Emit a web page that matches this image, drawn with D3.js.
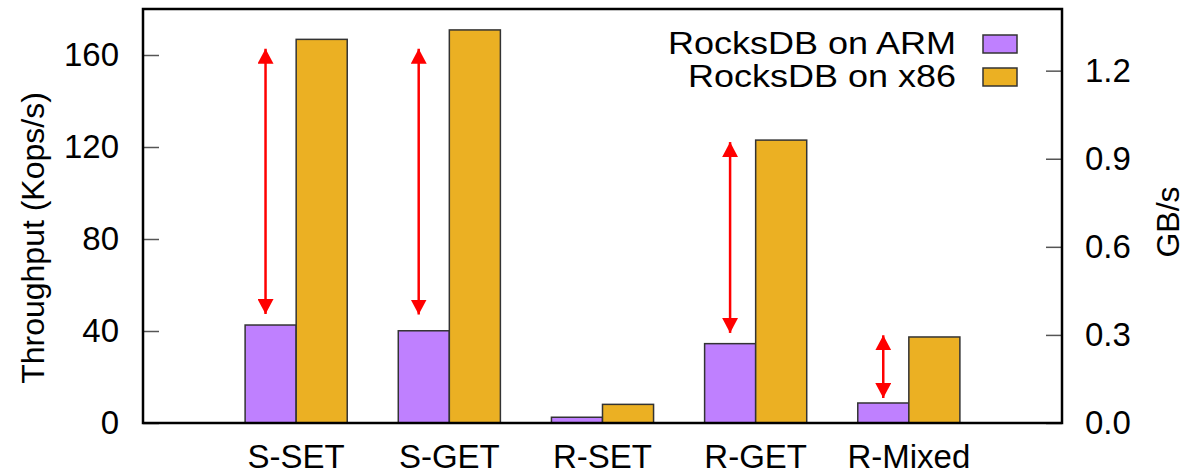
<!DOCTYPE html>
<html>
<head>
<meta charset="utf-8">
<script src="https://cdn.jsdelivr.net/npm/d3@7"></script>
<style>
  body { margin: 0; background: #fff; }
  svg text { font-family: "Liberation Sans", Arial, Helvetica, sans-serif; fill: #000; }
</style>
</head>
<body>
<svg id="chart" width="1185" height="475"></svg>
<script>
// data
var categories = ["S-SET", "S-GET", "R-SET", "R-GET", "R-Mixed"];
var armValues = [42.6, 40.1, 2.5, 34.5, 8.7];
var x86Values = [166.8, 170.9, 8.1, 123.0, 37.4];
var seriesNames = ["RocksDB on ARM", "RocksDB on x86"];
var leftTicks = [0, 40, 80, 120, 160];
var rightTicks = [0, 0.3, 0.6, 0.9, 1.2];
// red arrows: x position (in slot units), start and end value
var arrowX = [0.8, 1.8, 3.833, 4.833];
var arrowFrom = [46.5, 46.3, 38.3, 10];
var arrowTo = [163.6, 163.6, 123.0, 39];

var colors = ["#bf80ff", "#ebb023"];

var plotL = 143, plotR = 1062, plotT = 9, plotB = 423;

var svg = d3.select("#chart");

var x = d3.scaleLinear().domain([0, 6]).range([plotL, plotR]);
var y = d3.scaleLinear().domain([0, 180]).range([plotB, plotT]);
var y2 = d3.scaleLinear().domain([0, 1.41]).range([plotB, plotT]);

var barW = 1 / 3;

// bars
var g = svg.append("g");
g.selectAll("rect.arm")
  .data(armValues)
  .join("rect")
  .attr("class", "arm")
  .attr("x", function (d, i) { return x(i + 1 - barW); })
  .attr("width", function (d, i) { return x(i + 1) - x(i + 1 - barW); })
  .attr("y", function (d) { return y(d); })
  .attr("height", function (d) { return y(0) - y(d); })
  .attr("fill", colors[0])
  .attr("stroke", "#333")
  .attr("stroke-width", 1.5);

g.selectAll("rect.x86")
  .data(x86Values)
  .join("rect")
  .attr("class", "x86")
  .attr("x", function (d, i) { return x(i + 1); })
  .attr("width", function (d, i) { return x(i + 1 + barW) - x(i + 1); })
  .attr("y", function (d) { return y(d); })
  .attr("height", function (d) { return y(0) - y(d); })
  .attr("fill", colors[1])
  .attr("stroke", "#333")
  .attr("stroke-width", 1.5);

// arrow heads
var defs = svg.append("defs");
defs.append("marker")
  .attr("id", "head")
  .attr("viewBox", "0 0 15 16")
  .attr("refX", 15).attr("refY", 8)
  .attr("markerWidth", 15).attr("markerHeight", 16)
  .attr("markerUnits", "userSpaceOnUse")
  .attr("orient", "auto-start-reverse")
  .append("path")
  .attr("d", "M0,0 L15,8 L0,16 Z")
  .attr("fill", "#ff0000");

svg.append("g").selectAll("line")
  .data(arrowX)
  .join("line")
  .attr("x1", function (d) { return x(d); })
  .attr("x2", function (d) { return x(d); })
  .attr("y1", function (d, i) { return y(arrowFrom[i]) - 2; })
  .attr("y2", function (d, i) { return y(arrowTo[i]) + 2; })
  .attr("stroke", "#ff0000")
  .attr("stroke-width", 2.5)
  .attr("marker-start", "url(#head)")
  .attr("marker-end", "url(#head)");

// axes
var yAxis = svg.append("g")
  .attr("transform", "translate(" + plotL + ",0)")
  .call(d3.axisLeft(y).tickValues(leftTicks).tickSize(-16).tickPadding(24));
var yAxis2 = svg.append("g")
  .attr("transform", "translate(" + plotR + ",0)")
  .call(d3.axisRight(y2).tickValues(rightTicks).tickSize(-16).tickPadding(23).tickFormat(d3.format(".1f")));

[yAxis, yAxis2].forEach(function (a) {
  a.select(".domain").remove();
  a.selectAll(".tick line").attr("stroke", "#555").attr("stroke-width", 1.5);
  a.selectAll(".tick text").style("font-size", "33px").attr("fill", "#000");
});

// category labels
svg.append("g").selectAll("text")
  .data(categories)
  .join("text")
  .attr("x", function (d, i) { return x(i + 1); })
  .attr("y", 468)
  .attr("text-anchor", "middle")
  .style("font-size", "33px")
  .text(function (d) { return d; });

// frame
svg.append("rect")
  .attr("x", plotL).attr("y", plotT)
  .attr("width", plotR - plotL).attr("height", plotB - plotT)
  .attr("fill", "none")
  .attr("stroke", "#000")
  .attr("stroke-width", 2.5);

// axis titles
svg.append("text")
  .attr("transform", "translate(44,238) rotate(-90)")
  .attr("text-anchor", "middle")
  .style("font-size", "32px")
  .text("Throughput (Kops/s)");
svg.append("text")
  .attr("transform", "translate(1179,222) rotate(-90)")
  .attr("text-anchor", "middle")
  .style("font-size", "32px")
  .text("GB/s");

// legend
var legend = svg.append("g");
var rows = legend.selectAll("g")
  .data(seriesNames)
  .join("g")
  .attr("transform", function (d, i) { return "translate(0," + (54 + i * 33) + ")"; });
rows.append("text")
  .attr("x", 956)
  .attr("text-anchor", "end")
  .style("font-size", "32px")
  .attr("textLength", function (d, i) { return i === 0 ? 288 : 268; })
  .attr("lengthAdjust", "spacingAndGlyphs")
  .text(function (d) { return d; });
rows.append("rect")
  .attr("x", 983).attr("y", -19)
  .attr("width", 34).attr("height", 18)
  .attr("fill", function (d, i) { return colors[i]; })
  .attr("stroke", "#333")
  .attr("stroke-width", 1.5);
</script>
</body>
</html>
